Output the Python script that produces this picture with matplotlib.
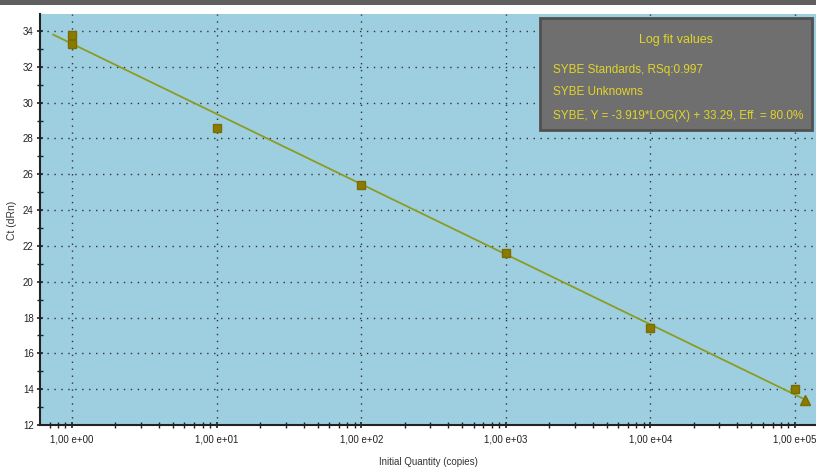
import numpy as np
import matplotlib
matplotlib.use("Agg")
import matplotlib.pyplot as plt
from matplotlib.ticker import FixedLocator, LogLocator, NullFormatter, MultipleLocator
from matplotlib.patches import Rectangle

# Data
std_quantity = [1, 1, 10, 100, 1000, 10000, 100000]
std_ct = [33.8, 33.25, 28.6, 25.4, 21.6, 17.4, 14.0]
unk_quantity = [117000]
unk_ct = [13.4]
slope = -3.919
intercept = 33.29
fit_range = [0.74, 117000]
x_tick_vals = [1, 10, 100, 1000, 10000, 100000]
x_tick_labels = ["1,00 e+00", "1,00 e+01", "1,00 e+02", "1,00 e+03", "1,00 e+04", "1,00 e+05"]
y_ticks = [12, 14, 16, 18, 20, 22, 24, 26, 28, 30, 32, 34]
legend_title = "Log fit values"
legend_lines = ["SYBE Standards, RSq:0.997", "SYBE Unknowns",
                "SYBE, Y = -3.919*LOG(X) + 33.29, Eff. = 80.0%"]

plt.rcParams['font.family'] = ['Liberation Sans', 'DejaVu Sans']

fig = plt.figure(figsize=(8.16, 4.68), dpi=100)
fig.patch.set_facecolor('white')
ax = fig.add_axes([40/816, 1-425/468, 1-40/816, (425-14)/468])
ax.set_facecolor('#9ecfe1')

# top bar
fig.add_artist(Rectangle((0, 1-5/468), 1, 5/468, transform=fig.transFigure,
                         facecolor='#5f5f5f', edgecolor='none'))

# fit line
xf = np.logspace(np.log10(fit_range[0]), np.log10(fit_range[1]), 50)
ax.plot(xf, slope*np.log10(xf) + intercept, color='#8c9c22', lw=1.3, zorder=3)

ax.plot(std_quantity, std_ct, 's', color='#8a7b00', markersize=6, zorder=4, mec='#7a6c00')
ax.plot(unk_quantity, unk_ct, '^', color='#8a7b00', markersize=7, zorder=4, mec='#7a6c00')

ax.set_xscale('log')
ax.set_xlim(10**-0.221, 10**5.145)
ax.set_ylim(12, 34.95)

ax.xaxis.set_major_locator(FixedLocator(x_tick_vals))
ax.set_xticklabels(x_tick_labels)
ax.xaxis.set_minor_locator(LogLocator(base=10, subs=np.arange(2, 10)))
ax.xaxis.set_minor_formatter(NullFormatter())
ax.yaxis.set_major_locator(FixedLocator(y_ticks))
ax.yaxis.set_minor_locator(MultipleLocator(1))

ax.tick_params(axis='both', which='major', direction='inout', length=5, width=1.2,
               labelsize=7, colors='#222222')
ax.tick_params(axis='both', which='minor', direction='inout', length=4, width=1.0, color='#222222')
ax.tick_params(axis='x', which='major', pad=4)
ax.tick_params(axis='y', which='major', pad=2)

ax.grid(True, which='major', color='#333333', linestyle=(0, (1, 4)), linewidth=1.0)
ax.set_axisbelow(True)
for s in ['top', 'right']:
    ax.spines[s].set_visible(False)
for s in ['left', 'bottom']:
    ax.spines[s].set_linewidth(1.5)
    ax.spines[s].set_color('#222222')

fig.text(12/816, 1-220/468, "Ct (dRn)", fontsize=7.5, color='#333333',
         rotation=90, ha='center', va='center')
fig.text(428/816, 1-462/468, "Initial Quantity (copies)", fontsize=7, color='#333333',
         ha='center', va='center')

# legend box
fig.add_artist(Rectangle((540/816, 1-130/468), (812-540)/816, (130-18)/468,
                         transform=fig.transFigure, facecolor='#6f6f6f',
                         edgecolor='#505050', linewidth=2, zorder=5))
fig.text(676/816, 1-40/468, legend_title, color='#e2d52a', fontsize=9,
         ha='center', va='center', zorder=6)
for t, yy in zip(legend_lines, [70, 92, 116]):
    fig.text(553/816, 1-yy/468, t, color='#e2d52a', fontsize=8.5,
             ha='left', va='center', zorder=6)

fig.savefig('out.png', dpi=100)
